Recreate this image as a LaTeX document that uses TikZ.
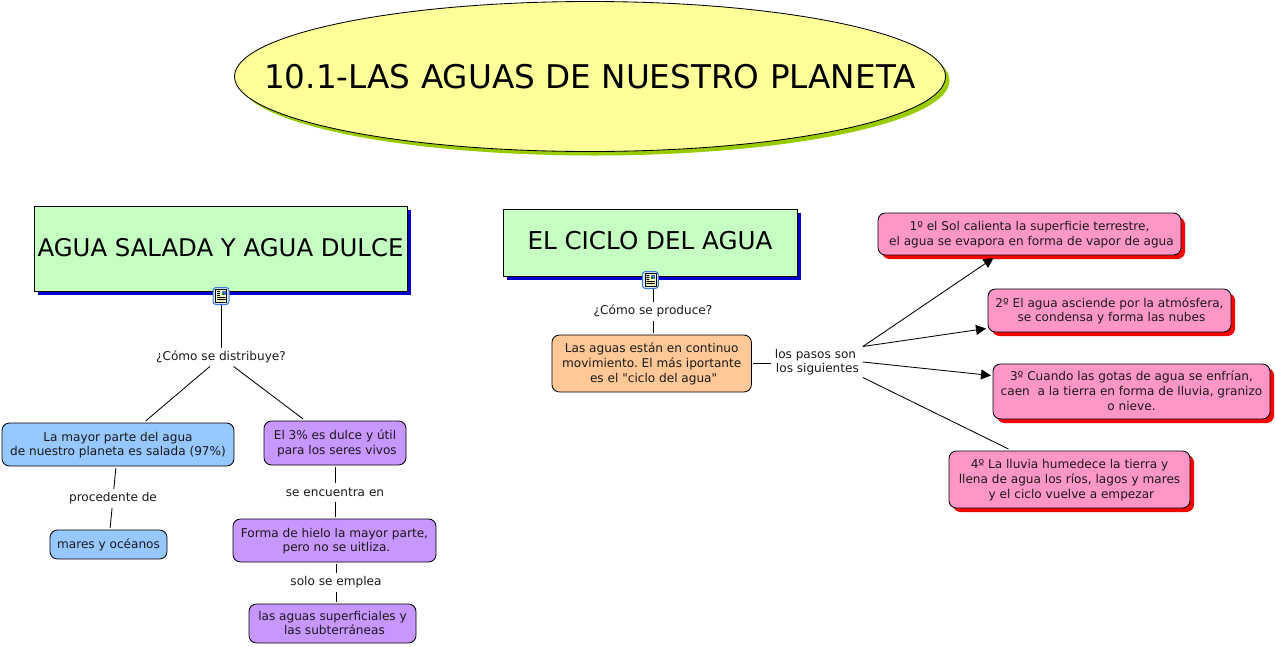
\documentclass[tikz,border=0pt]{standalone}
\usepackage{fontspec}
\setmainfont{DejaVu Sans}
\newfontfamily\plainfam{DejaVu Sans}
\usetikzlibrary{shapes.geometric,shadows,arrows.meta,calc}
\newcommand\cardtext[1]{\raisebox{0pt}[\dimexpr\height+2pt\relax][\depth]{\begin{tabular}{@{}c@{}}#1\end{tabular}}}
\tikzset{
  x=1pt,y=-1pt,
  conn/.style={line width=0.85pt,black},
  arrowconn/.style={conn,-{Triangle[length=10pt,width=10pt]}},
  txt/.style={font=\fontsize{12.1}{14.6}\selectfont,align=center,text=black!90},
  card/.style={txt,draw=black,line width=0.85pt,rounded corners=7.5pt,inner sep=0pt,outer sep=2pt},
  blue box/.style={card,fill=bluefill},
  purple box/.style={card,fill=purplefill},
  orange box/.style={card,fill=orangefill},
  pink box/.style={card,fill=pinkfill,general shadow={fill=red,shadow xshift=4pt,shadow yshift=-4pt}},
  head box/.style={draw=black,line width=0.85pt,fill=greenfill,inner sep=0pt,outer sep=0pt,align=center,
     general shadow={fill=shadowblue,shadow xshift=4pt,shadow yshift=-4pt}},
  link label/.style={txt,inner xsep=2pt,inner ysep=0pt,outer sep=0pt,minimum height=19pt},
  icon frame/.style={draw=iconblue,line width=1pt,fill=iconpale,rounded corners=3pt,minimum width=16pt,minimum height=17pt,inner sep=0pt,outer sep=0pt},
  pics/docicon/.style={code={
    \draw[line width=0.6pt,fill=iconcream] (-5.5,-6.5) rectangle (5.5,6.5);
    \fill[iconblue] (0.5,-5.5) rectangle (4.5,-1);
    \fill[green!50!black] (0.5,-3) rectangle (2.5,-1);
    \fill[black] (-4,-5) rectangle (-1,-4) (-4,-3) rectangle (-1,-2) (-4,-1) rectangle (-1,0);
    \fill[black] (-4,1) rectangle (4.5,2) (-4,3) rectangle (4.5,4);
  }}
}
\definecolor{greenfill}{HTML}{C6FFC2}
\definecolor{bluefill}{HTML}{96C8FF}
\definecolor{purplefill}{HTML}{C896FF}
\definecolor{orangefill}{HTML}{FFC896}
\definecolor{pinkfill}{HTML}{FF96C8}
\definecolor{shadowblue}{HTML}{0000CC}
\definecolor{titlefill}{HTML}{FFFF99}
\definecolor{titleshadow}{HTML}{99CC00}
\definecolor{iconblue}{HTML}{3A7BD5}
\definecolor{iconpale}{HTML}{D8E8FF}
\definecolor{iconcream}{HTML}{FFFFCC}
\begin{document}
\frenchspacing
\begin{tikzpicture}
\useasboundingbox (0,0) rectangle (1276,646);
% title
\node[ellipse,draw=black,line width=0.85pt,fill=titlefill,inner sep=0pt,minimum width=711pt,minimum height=150pt,
  general shadow={fill=titleshadow,shadow xshift=4pt,shadow yshift=-4pt},
  font=\fontsize{32.65}{36}\selectfont] (title) at (590,76.5) {\makebox[0pt]{10.1-LAS AGUAS DE NUESTRO PLANETA}};
% headers
\node[head box,minimum width=373pt,minimum height=85pt,font=\fontsize{24.35}{28}\selectfont] (salada) at (220.5,248.5) {\raisebox{2pt}{AGUA SALADA Y AGUA DULCE}};
\node[head box,minimum width=294pt,minimum height=67pt,font=\fontsize{24.6}{28}\selectfont] (ciclo) at (650,242.5) {\raisebox{4pt}{EL CICLO DEL AGUA}};
% icons
\node[icon frame] (iconA) at (221,296) {};
\pic at (iconA) {docicon};
\node[icon frame] (iconB) at (650.3,280) {};
\pic at (iconB) {docicon};
% left branch
\node[link label] (distrib) at (221,357) {¿Cómo se distribuye?};
\node[blue box,minimum width=232pt,minimum height=43pt] (mayor) at (118,444.5) {\cardtext{La mayor parte del agua\\de nuestro planeta es salada (97\%)}};
\node[purple box,minimum width=142pt,minimum height=44pt] (dulce) at (335,443) {\cardtext{El 3\% es dulce y útil\\\ para los seres vivos}};
\node[link label] (proced) at (113,498.5) {procedente de};
\node[blue box,minimum width=117pt,minimum height=29pt] (mares) at (108.5,544.5) {\cardtext{mares y océanos}};
\node[link label] (encuentra) at (335,492) {se encuentra en};
\node[purple box,minimum width=203pt,minimum height=43pt] (hielo) at (334.5,540.5) {\cardtext{Forma de hielo la mayor parte,\\\ pero no se uitliza.}};
\node[link label] (solo) at (336,582) {solo se emplea};
\node[purple box,minimum width=167pt,minimum height=39pt] (superf) at (332.5,623.5) {\cardtext{las aguas superficiales y\\\ las subterráneas}};
% right branch
\node[link label] (produce) at (653,311) {¿Cómo se produce?};
\node[orange box,minimum width=199.5pt,minimum height=57pt] (mov) at (651.7,363.5) {\cardtext{Las aguas están en continuo\\movimiento. El más iportante\\\ es el {\plainfam"}ciclo del agua{\plainfam"}}};
\node[link label,inner xsep=1pt] (pasos) at (815.5,362) {los pasos son\\\ los siguientes};
\node[pink box,minimum width=303pt,minimum height=42pt] (s1) at (1029.5,234) {\cardtext{1º el Sol calienta la superficie terrestre,\\\ el agua se evapora en forma de vapor de agua}};
\node[pink box,minimum width=243pt,minimum height=43pt] (s2) at (1109.5,310.5) {\cardtext{2º El agua asciende por la atmósfera,\\\ se condensa y forma las nubes}};
\node[pink box,minimum width=277pt,minimum height=55pt] (s3) at (1131.5,391.5) {\cardtext{3º Cuando las gotas de agua se enfrían,\\caen\ \ a la tierra en forma de lluvia, granizo\\o nieve.}};
\node[pink box,minimum width=241pt,minimum height=57pt] (s4) at (1069.5,479.5) {\cardtext{4º La lluvia humedece la tierra y\\llena de agua los ríos, lagos y mares\\\ y el ciclo vuelve a empezar}};
% connectors
\draw[conn] (iconA) -- (distrib);
\draw[conn] (distrib) -- (mayor);
\draw[conn] (distrib) -- (dulce);
\draw[conn] (mayor) -- (proced);
\draw[conn] (proced) -- (mares);
\draw[conn] (dulce) -- (encuentra);
\draw[conn] (encuentra.south) -- (encuentra.south |- hielo.north);
\draw[conn] (hielo.south -| solo) -- (solo.north);
\draw[conn] (solo.south) -- (solo.south |- superf.north);
\draw[conn] (iconB.south -| produce) -- (produce.north);
\draw[conn] (produce.south) -- (produce.south |- mov.north);
\draw[conn] (mov.east) -- (mov.east -| pasos.west);
\draw[arrowconn] ([xshift=3pt,yshift=15.5pt]pasos.east) -- ([xshift=-36pt,yshift=-1pt]s1.south);
\draw[arrowconn] ([xshift=3pt,yshift=15.5pt]pasos.east) -- ([yshift=-18pt]s2.west);
\draw[arrowconn] ([xshift=3pt]pasos.east) -- ([yshift=16pt]s3.west);
\draw[conn] ([xshift=3pt,yshift=-15.5pt]pasos.east) -- ([xshift=-61pt]s4.north);
\end{tikzpicture}
\end{document}
